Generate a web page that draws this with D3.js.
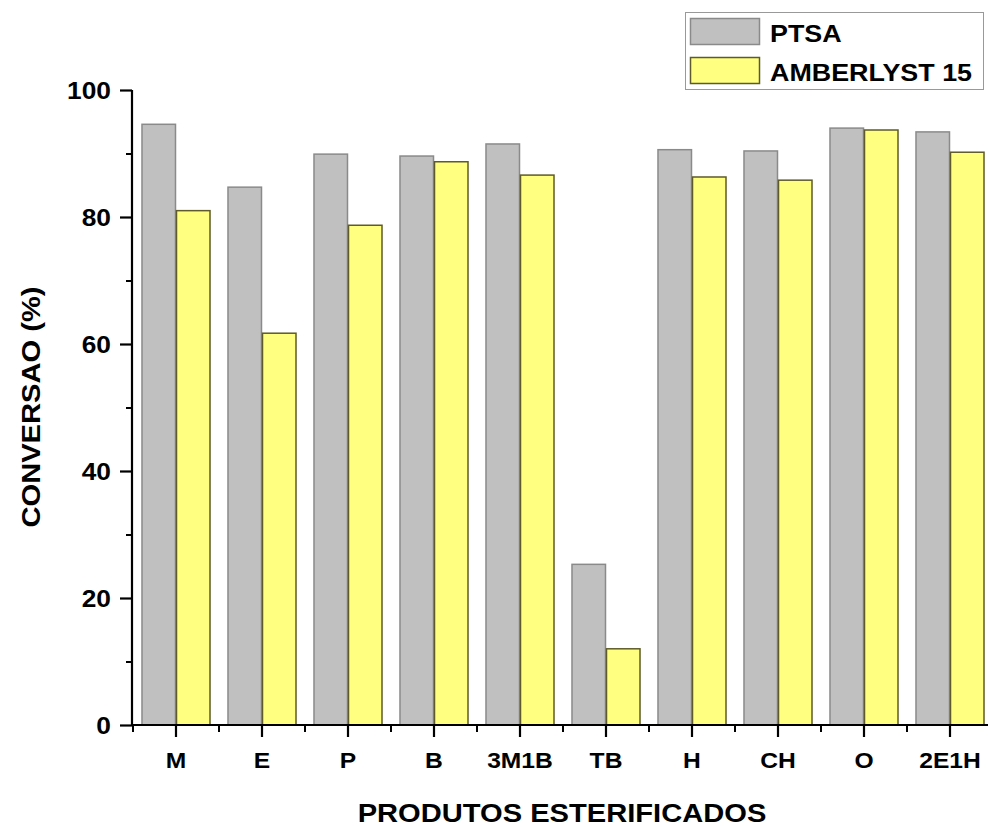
<!DOCTYPE html>
<html><head><meta charset="utf-8">
<script src="https://cdn.jsdelivr.net/npm/d3@7/dist/d3.min.js"></script>
<style>body{margin:0;background:#fff}svg{display:block}text{font-family:"Liberation Sans",Arial,sans-serif;font-weight:bold;fill:#000}</style>
</head><body><svg id="c" width="988" height="827"></svg>
<script>
const categories = ["M","E","P","B","3M1B","TB","H","CH","O","2E1H"];
const seriesNames = ["PTSA","AMBERLYST 15"];
const ptsa = [94.6,84.7,89.9,89.6,91.5,25.3,90.6,90.4,94.0,93.4];
const amberlyst = [81.0,61.7,78.7,88.7,86.6,12.0,86.3,85.8,93.7,90.2];
const yTicks = [0,20,40,60,80,100];
const yMinor = [10,30,50,70,90];

const svg = d3.select("#c");
const SX = 1.12;
const x = d3.scaleBand().domain(categories).range([133, 993]).paddingInner(0).paddingOuter(0);
const y = d3.scaleLinear().domain([0,100]).range([725, 90]);
const inner = d3.scaleBand().domain(seriesNames).range([0, x.bandwidth()]).paddingOuter(0.246).paddingInner(0);
const fills = ["#c0c0c0","#ffff80"];
const strokes = ["#8a8a8a","#5e5a2a"];
const data = [ptsa, amberlyst];

seriesNames.forEach((s,si)=>{
  svg.append("g").selectAll("rect").data(categories).join("rect")
    .attr("x", c=>x(c)+inner(s)+0.5)
    .attr("y", (c,i)=>y(data[si][i]))
    .attr("width", inner.bandwidth()-1)
    .attr("height", (c,i)=>y(0)-y(data[si][i]))
    .attr("fill", fills[si]).attr("stroke", strokes[si]).attr("stroke-width",1.5);
});

function stretchText(g, tx, ty, txt, size, anchor, rot){
  const t = g.append("text").text(txt).attr("font-size", size).attr("text-anchor", anchor)
    .attr("transform", `translate(${tx},${ty})` + (rot?` rotate(${rot})`:"") + ` scale(${SX},1)`);
  return t;
}

// y axis
const yAxis = svg.append("g").attr("transform","translate(132,0)")
  .call(d3.axisLeft(y).tickValues(yTicks).tickSize(12).tickFormat(""));
yAxis.select(".domain").attr("stroke","#000").attr("stroke-width",2.2).attr("d","M0,90V726");
yAxis.selectAll(".tick line").attr("stroke","#000").attr("stroke-width",2.2);
svg.append("g").attr("transform","translate(132,0)")
  .call(d3.axisLeft(y).tickValues(yMinor).tickSize(6).tickFormat(""))
  .call(g=>{g.select(".domain").remove(); g.selectAll(".tick line").attr("stroke","#000").attr("stroke-width",2);});
const yl = svg.append("g");
yTicks.forEach(v=>stretchText(yl, 111, y(v)+8.5, String(v), 23.5, "end"));

// x axis
const xAxis = svg.append("g").attr("transform","translate(0,725)")
  .call(d3.axisBottom(x).tickSize(12).tickFormat(""));
xAxis.select(".domain").attr("stroke","#000").attr("stroke-width",2.2).attr("d","M131,0H988");
xAxis.selectAll(".tick line").attr("stroke","#000").attr("stroke-width",2.2);
const bounds = categories.map(c=>x(c));
svg.append("g").selectAll("line").data(bounds).join("line")
  .attr("x1",d=>d).attr("x2",d=>d).attr("y1",725).attr("y2",732)
  .attr("stroke","#000").attr("stroke-width",2);
const xl = svg.append("g");
categories.forEach(c=>stretchText(xl, x(c)+x.bandwidth()/2, 768, c, 22, "middle"));

// titles
stretchText(svg, 562, 822, "PRODUTOS ESTERIFICADOS", 26, "middle");
stretchText(svg, 40, 407, "CONVERSAO (%)", 26, "middle", -90);

// legend
const lg = svg.append("g");
lg.append("rect").attr("x",685.5).attr("y",12.5).attr("width",298).attr("height",77)
  .attr("fill","#fff").attr("stroke","#999").attr("stroke-width",1);
seriesNames.forEach((s,i)=>{
  const yy = 18 + i*39;
  lg.append("rect").attr("x",690.5).attr("y",yy+0.5).attr("width",69).attr("height",26)
    .attr("fill",fills[i]).attr("stroke",strokes[i]).attr("stroke-width",1.5);
  stretchText(lg, 770, yy+24, s, 24, "start");
});
</script></body></html>
